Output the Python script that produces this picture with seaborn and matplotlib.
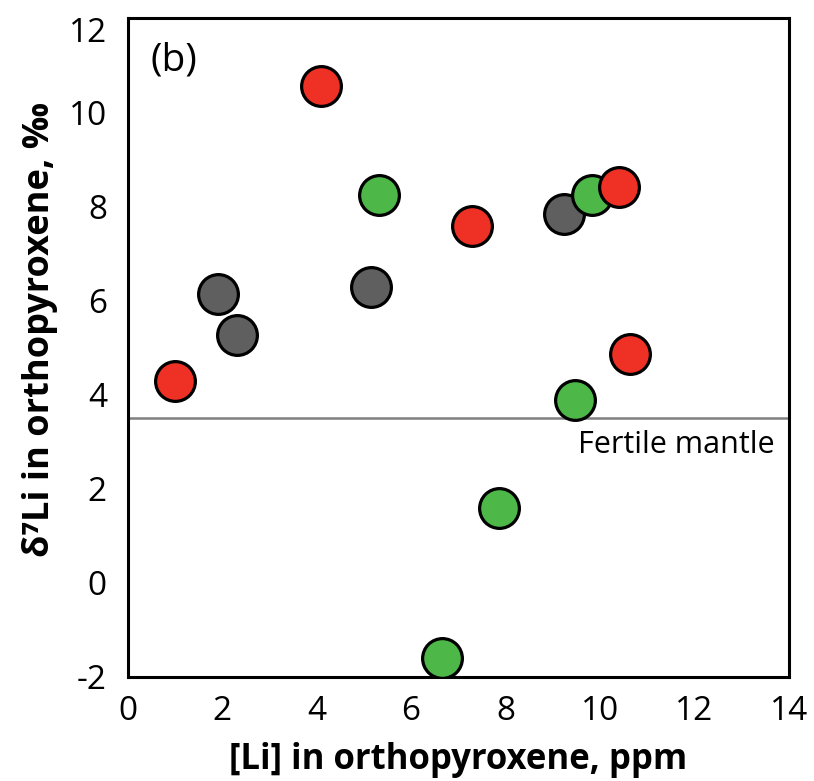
import matplotlib
matplotlib.use("Agg")
import matplotlib.pyplot as plt
from matplotlib.transforms import ScaledTranslation
import seaborn as sns
import pandas as pd

# Data
red_li = [1.00, 4.09, 7.28, 10.40, 10.64]
red_d7 = [4.30, 10.56, 7.58, 8.41, 4.87]
green_li = [5.32, 9.84, 9.47, 7.86, 6.66]
green_d7 = [8.25, 8.25, 3.89, 1.59, -1.60]
gray_li = [1.90, 2.31, 5.15, 9.24]
gray_d7 = [6.15, 5.27, 6.28, 7.84]
fertile_mantle = 3.5
x_tick_labels = [0, 2, 4, 6, 8, 10, 12, 14]
y_ticks = [-2, 0, 2, 4, 6, 8, 10, 12]

df = pd.DataFrame({
    "li": gray_li + green_li + red_li,
    "d7": gray_d7 + green_d7 + red_d7,
    "grp": ["gray"] * len(gray_li) + ["green"] * len(green_li) + ["red"] * len(red_li),
})
order = {"gray": 0, "green": 1, "red": 2}

sns.set_style("white")
plt.rcParams["font.family"] = ["Open Sans", "DejaVu Sans"]
plt.rcParams["text.color"] = "black"
plt.rcParams["axes.labelcolor"] = "black"
plt.rcParams["xtick.color"] = "black"
plt.rcParams["ytick.color"] = "black"

fig = plt.figure(figsize=(8.14, 7.81), dpi=100)
ax = fig.add_axes([0.157, 0.1332, 0.812, 0.8434])

ax.axhline(fertile_mantle, color="#808080", lw=1.8, zorder=1)

palette = {"gray": "#5E5F5E", "green": "#4DB748", "red": "#EE3124"}
for g in ["gray", "green", "red"]:
    sub = df[df.grp == g]
    sns.scatterplot(data=sub, x="li", y="d7", color=palette[g], s=820,
                    edgecolor="black", linewidth=2.3, ax=ax, zorder=3 + order[g],
                    legend=False)

ax.set_xlim(0, 14)
ax.set_ylim(-2, 12)

ax.xaxis.remove_overlapping_locs = False
ax.set_xticks([0, 3.5, 7, 10.5, 14])
ax.set_xticklabels([])
ax.set_xticks(x_tick_labels, minor=True)
ax.set_xticklabels([str(v) for v in x_tick_labels], minor=True)
ax.tick_params(axis="x", which="major", direction="out", length=9, width=2.2, color="black")
ax.tick_params(axis="x", which="minor", length=0, labelsize=24, pad=13, labelcolor="black")

ax.set_yticks(y_ticks)
ax.set_yticklabels([str(v) for v in y_ticks])
ax.tick_params(axis="y", direction="in", length=12, width=2.2, labelsize=24, pad=15,
               color="black", labelcolor="black")
top_lbl = ax.yaxis.get_major_ticks()[-1].label1
top_lbl.set_transform(top_lbl.get_transform() + ScaledTranslation(0, -0.11, fig.dpi_scale_trans))

for sp in ax.spines.values():
    sp.set_visible(True)
    sp.set_linewidth(2.2)
    sp.set_color("black")

ax.set_xlabel("[Li] in orthopyroxene, ppm", fontsize=25, fontweight="bold", labelpad=10)
ax.set_ylabel("δ⁷Li in orthopyroxene, ‰", fontsize=26, fontweight="bold")
ax.yaxis.set_label_coords(-0.105, 0.527)

ax.text(0.035, 0.965, "(b)", transform=ax.transAxes, fontsize=28, va="top", ha="left")
ax.text(13.71, 2.75, "Fertile mantle", fontsize=22, ha="right", va="baseline")

fig.savefig("out.png", dpi=100)
